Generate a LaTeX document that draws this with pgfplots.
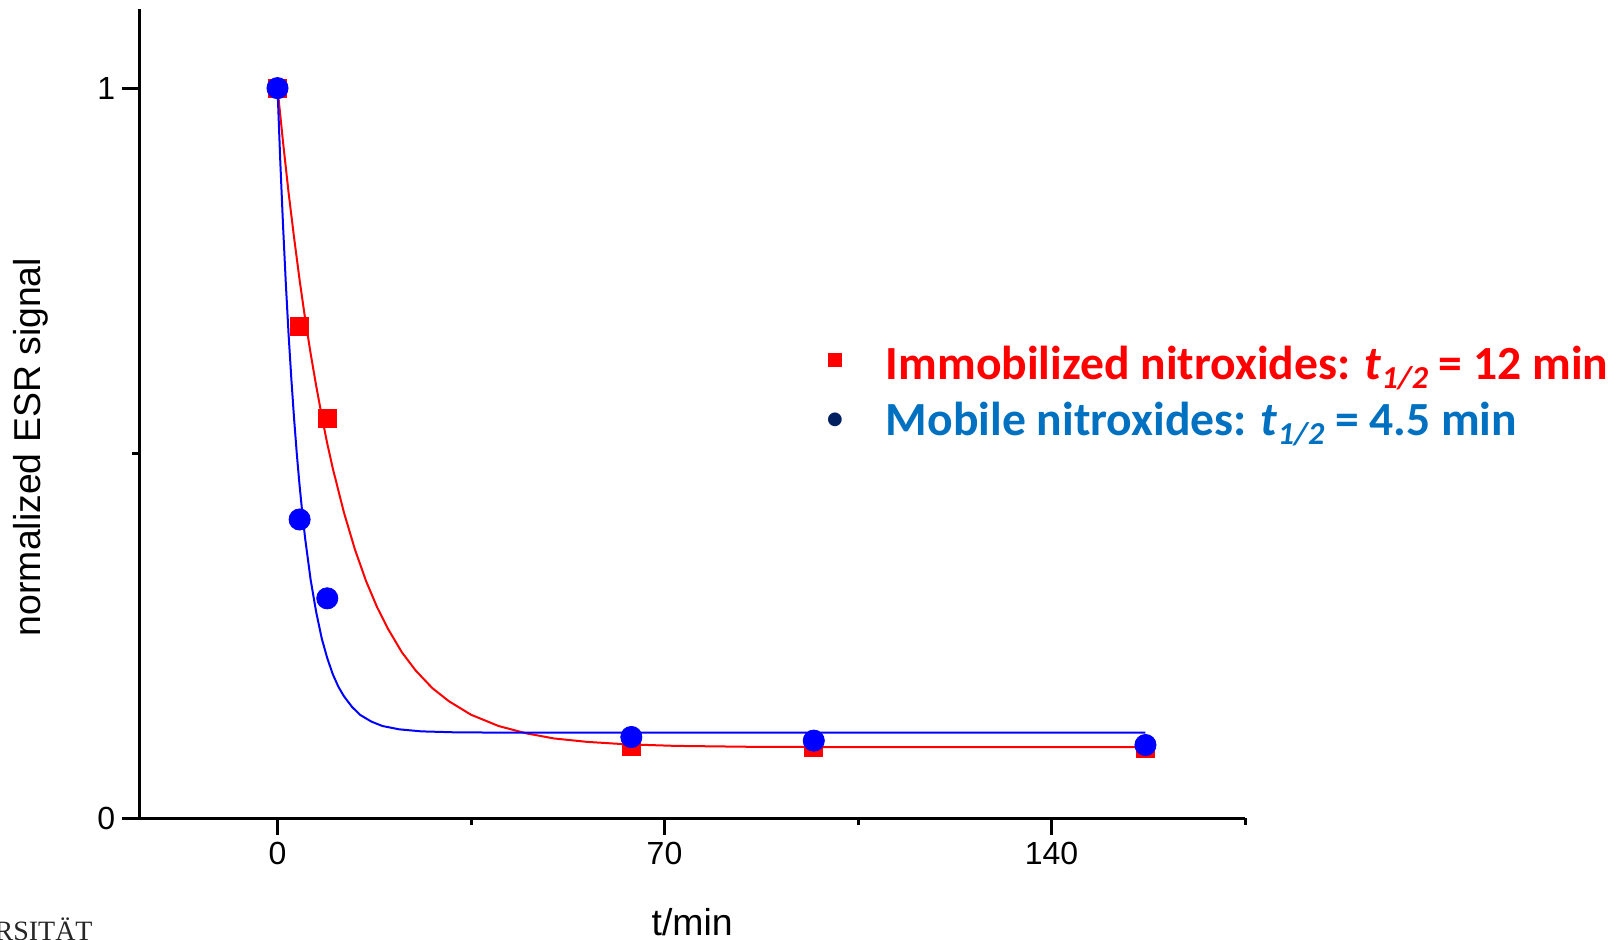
\documentclass[border=0pt]{standalone}
\usepackage{pgfplots}
\pgfplotsset{compat=1.18}
\usepackage{fontspec}
\setmainfont{Liberation Sans}
\newfontfamily\carlito{Carlito}
\newfontfamily\dejavu{DejaVu Sans}
\newfontfamily\uniserif{Liberation Serif}
\definecolor{legblue}{RGB}{0,112,192}
\definecolor{navy}{RGB}{0,32,96}
\begin{document}
\begin{tikzpicture}
\begin{axis}[
  at={(0,0)}, anchor=south west,
  scale only axis, width=552.85pt, height=404.35pt,
  xmin=-25, xmax=175, ymin=0, ymax=1.108,
  axis lines=left, axis line style={-, line width=1.5pt},
  every tick/.style={black, line width=1.5pt},
  tick align=outside,
  major tick length=8.5pt, minor tick length=3.5pt,
  xtick={0,70,140}, minor xtick={35,105,175},
  ytick={0,1}, minor ytick={0.5},
  tick label style={font=\fontsize{16pt}{16pt}\selectfont},
  /pgf/number format/assume math mode=true,
  xlabel={t/min}, ylabel={normalized ESR signal},
  label style={font=\fontsize{18.7pt}{18.7pt}\selectfont},
  xlabel style={at={(axis description cs:0.5,-0.1459)}, anchor=base},
  ylabel style={at={(axis description cs:-0.0979,0.4588)}, anchor=center},
  clip=false,
]
% fitted curve, immobilized
\addplot[red, line width=1pt, no marks] coordinates {
(0,1.000) (1,0.926) (2,0.857) (3,0.795) (4,0.737) (5,0.684) (6,0.636) (7,0.592)
(8,0.551) (9,0.513) (10,0.479) (12,0.419) (14,0.368) (16,0.325) (18,0.289)
(20,0.259) (22.5,0.227) (25,0.202) (28,0.178) (31,0.160) (35,0.1415) (40,0.126)
(45,0.116) (50,0.109) (56,0.1043) (63,0.101) (72,0.0988) (85,0.0976) (100,0.0972) (157,0.097)
};
% fitted curve, mobile
\addplot[blue, line width=1pt, no marks] coordinates {
(0,1.000) (0.5,0.900) (1,0.812) (1.5,0.733) (2,0.663) (2.5,0.602) (3,0.547)
(3.5,0.498) (4,0.455) (4.5,0.417) (5,0.383) (6,0.326) (7,0.282) (8,0.246)
(9,0.219) (10,0.197) (11,0.180) (12,0.167) (13.5,0.152) (15,0.141) (17,0.132)
(19,0.126) (22,0.1215) (26,0.1187) (32,0.1174) (40,0.117) (157,0.117)
};
\addplot[only marks, mark=square*, mark size=4.5pt, red, mark options={draw=red, fill=red}] coordinates {
(0,1) (4,0.674) (9,0.548) (64,0.0977) (97,0.0966) (157,0.0952)
};
\addplot[only marks, mark=*, mark size=5.3pt, blue, mark options={draw=blue, fill=blue}] coordinates {
(0,1) (4,0.409) (9,0.301) (64,0.111) (97,0.106) (157,0.100)
};
\end{axis}
% legend (text box)
\node[anchor=base west, inner sep=0pt, text=red,
  font={\carlito\bfseries\fontsize{23.8pt}{28pt}\selectfont}] at (373.1pt,219pt)
  {Immobilized nitroxides: \textit{t}\raisebox{-4.5pt}{\fontsize{16pt}{16pt}\selectfont\textit{1/2}} = 12 min};
\node[anchor=base west, inner sep=0pt, text=legblue,
  font={\carlito\bfseries\fontsize{23.8pt}{28pt}\selectfont}] at (373.1pt,191.5pt)
  {Mobile nitroxides: \textit{t}\raisebox{-4.5pt}{\fontsize{16pt}{16pt}\selectfont\textit{1/2}} = 4.5 min};
\node[inner sep=0pt] at (347.85pt,229pt) {\textcolor{red}{\rule{7pt}{7pt}}};
\node[inner sep=0pt, text=navy, font={\dejavu\fontsize{9pt}{9pt}\selectfont}] at (347.85pt,199.25pt) {●};
\node[anchor=base east, inner sep=0pt, text=black!85,
  font={\uniserif\fontsize{14pt}{14pt}\selectfont}] at (-23.15pt,-61pt) {UNIVERSITÄT};
\pgfresetboundingbox
\path (-69.65pt,-60.5pt) rectangle (742.35pt,409pt);
\end{tikzpicture}
\end{document}
